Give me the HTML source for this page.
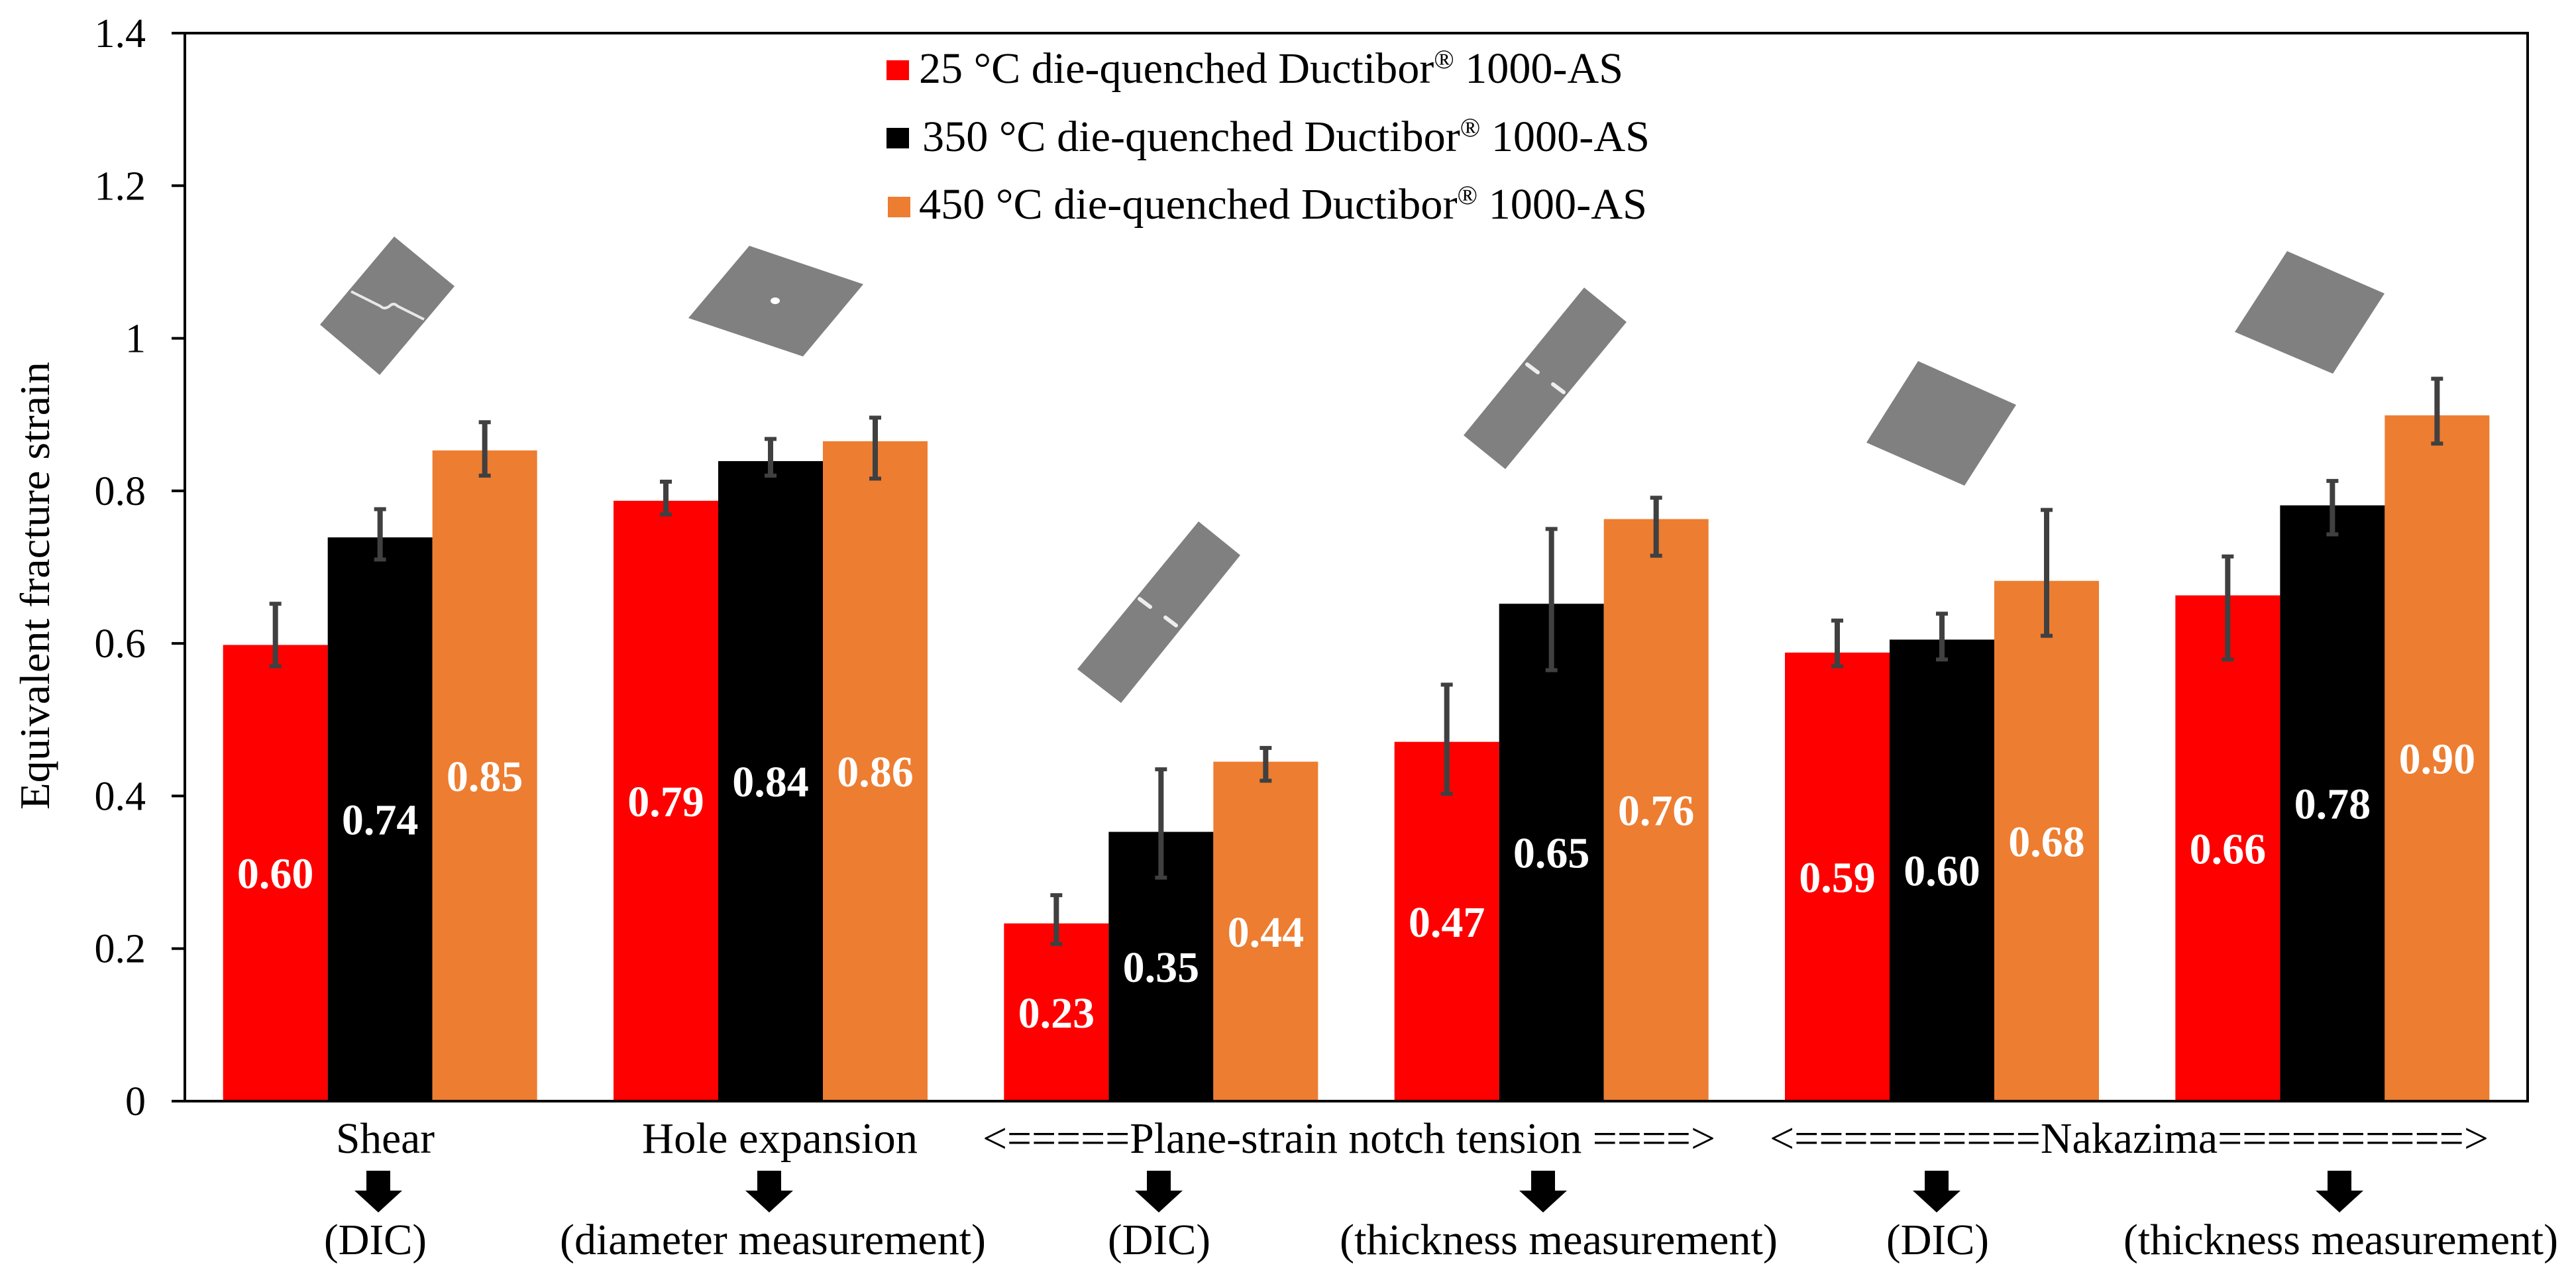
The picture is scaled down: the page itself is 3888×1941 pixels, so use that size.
<!DOCTYPE html>
<html><head><meta charset="utf-8"><style>
html,body{margin:0;padding:0;background:#fff;}
svg{display:block;font-family:"Liberation Serif",serif;}
</style></head><body>
<svg id="chart" xmlns="http://www.w3.org/2000/svg" width="3888" height="1941" viewBox="0 0 3888 1941">
<rect x="0" y="0" width="3888" height="1941" fill="#fff"/>
<g id="specimens">
 <g>
  <polygon points="595,357 686,432 573,566 483,490" fill="#808080"/>
  <path d="M530,440 L574,462 Q580,468 588,462 Q594,456 600,462 L640,482" stroke="#e8e8e8" stroke-width="4" fill="none"/>
 </g>
 <g>
  <polygon points="1131,371 1303,429 1212,538 1039,480" fill="#808080"/>
  <ellipse cx="1170" cy="454" rx="7" ry="5" fill="#fff"/>
 </g>
 <g>
  <polygon points="1809,787 1872,838 1692,1061 1626,1010" fill="#808080"/>
  <line x1="1720" y1="904" x2="1736" y2="916" stroke="#eee" stroke-width="6" stroke-linecap="round"/>
  <line x1="1759" y1="932" x2="1775" y2="944" stroke="#eee" stroke-width="6" stroke-linecap="round"/>
 </g>
 <g>
  <polygon points="2391,434 2455,486 2272,708 2209,657" fill="#808080"/>
  <line x1="2305" y1="550" x2="2321" y2="562" stroke="#eee" stroke-width="6" stroke-linecap="round"/>
  <line x1="2344" y1="580" x2="2360" y2="592" stroke="#eee" stroke-width="6" stroke-linecap="round"/>
 </g>
 <polygon points="2895,545 3043,611 2965,733 2817,668" fill="#808080"/>
 <polygon points="3452,379 3599,443 3521,564 3373,501" fill="#808080"/>
</g>
<g id="bars"></g>
<g id="axes"></g>
<g id="legend">
 <g>
  <rect x="1338" y="91" width="34" height="30" fill="#FF0000"/>
  <text x="1387" y="125" font-size="66" textLength="1063" lengthAdjust="spacingAndGlyphs">25 °C die-quenched Ductibor<tspan font-size="40" dy="-22">®</tspan><tspan dy="22"> 1000-AS</tspan></text>
 </g>
 <g>
  <rect x="1338" y="193" width="34" height="31" fill="#000"/>
  <text x="1392" y="228" font-size="66" textLength="1098" lengthAdjust="spacingAndGlyphs">350 °C die-quenched Ductibor<tspan font-size="40" dy="-22">®</tspan><tspan dy="22"> 1000-AS</tspan></text>
 </g>
 <g>
  <rect x="1340" y="297" width="34" height="31" fill="#ED7D31"/>
  <text x="1387" y="330" font-size="66" textLength="1099" lengthAdjust="spacingAndGlyphs">450 °C die-quenched Ductibor<tspan font-size="40" dy="-22">®</tspan><tspan dy="22"> 1000-AS</tspan></text>
 </g>
</g>
<g id="catlabels">
 <text x="507" y="1740" font-size="66" textLength="149" lengthAdjust="spacingAndGlyphs">Shear</text>
 <text x="969" y="1740" font-size="66" textLength="416" lengthAdjust="spacingAndGlyphs">Hole expansion</text>
 <text x="1483" y="1740" font-size="66" textLength="1106" lengthAdjust="spacingAndGlyphs">&lt;=====Plane-strain notch tension ====&gt;</text>
 <text x="2671" y="1740" font-size="66" textLength="1085" lengthAdjust="spacingAndGlyphs">&lt;==========Nakazima==========&gt;</text>
 <text x="489" y="1893" font-size="66" textLength="155" lengthAdjust="spacingAndGlyphs">(DIC)</text>
 <text x="845" y="1893" font-size="66" textLength="643" lengthAdjust="spacingAndGlyphs">(diameter measurement)</text>
 <text x="1672" y="1893" font-size="66" textLength="155" lengthAdjust="spacingAndGlyphs">(DIC)</text>
 <text x="2022" y="1893" font-size="66" textLength="661" lengthAdjust="spacingAndGlyphs">(thickness measurement)</text>
 <text x="2847" y="1893" font-size="66" textLength="155" lengthAdjust="spacingAndGlyphs">(DIC)</text>
 <text x="3205" y="1893" font-size="66" textLength="656" lengthAdjust="spacingAndGlyphs">(thickness measurement)</text>
</g>
<g id="arrows"></g>
</svg>
<script>
const categories = ["Shear DIC","Hole expansion","Plane-strain DIC","Plane-strain thickness","Nakazima DIC","Nakazima thickness"];
const seriesNames = ["25 °C","350 °C","450 °C"];
const values25 = [0.598,0.787,0.233,0.471,0.588,0.663];
const values350 = [0.739,0.839,0.353,0.652,0.605,0.781];
const values450 = [0.853,0.865,0.445,0.763,0.682,0.899];
const errHi25 = [0.652,0.812,0.270,0.546,0.630,0.714];
const errLo25 = [0.570,0.769,0.206,0.403,0.570,0.579];
const errHi350 = [0.776,0.868,0.435,0.750,0.639,0.813];
const errLo350 = [0.710,0.820,0.293,0.565,0.579,0.743];
const errHi450 = [0.890,0.896,0.463,0.791,0.775,0.947];
const errLo450 = [0.820,0.816,0.420,0.715,0.610,0.862];
const printed25 = ["0.60","0.79","0.23","0.47","0.59","0.66"];
const printed350 = ["0.74","0.84","0.35","0.65","0.60","0.78"];
const printed450 = ["0.85","0.86","0.44","0.76","0.68","0.90"];
const yTicks = [0,0.2,0.4,0.6,0.8,1,1.2,1.4];
const yTickLabels = ["0","0.2","0.4","0.6","0.8","1","1.2","1.4"];

const NS="http://www.w3.org/2000/svg";
const L=279,R=3815,T=50,B=1662,YMAX=1.4;
const y=v=>B-(v/YMAX)*(B-T);
const groupW=(R-L)/categories.length, barW=158;
const xc=i=>L+groupW*(i+0.5);
function mk(tag,attrs,parent){const e=document.createElementNS(NS,tag);for(const k in attrs)e.setAttribute(k,attrs[k]);parent.appendChild(e);return e;}
const bars=document.getElementById('bars');
const series=[[values25,errHi25,errLo25,printed25,"#FF0000"],[values350,errHi350,errLo350,printed350,"#000000"],[values450,errHi450,errLo450,printed450,"#ED7D31"]];
series.forEach((s,si)=>{
  s[0].forEach((v,i)=>{
    const x=xc(i)-1.5*barW+si*barW;
    const r=mk('rect',{x:x,y:y(v),width:barW,height:B-y(v),fill:s[4]},bars);
    
    
    const cx=x+barW/2;
    const e=mk('g',{stroke:'#404040','stroke-width':8},bars);
    
    
    mk('line',{x1:cx,x2:cx,y1:y(s[1][i]),y2:y(s[2][i])},e);
    mk('line',{x1:cx-9,x2:cx+9,y1:y(s[1][i]),y2:y(s[1][i]),'stroke-width':6},e);
    mk('line',{x1:cx-9,x2:cx+9,y1:y(s[2][i]),y2:y(s[2][i]),'stroke-width':6},e);
    const t=mk('text',{x:cx,y:(y(v)+B)/2+23,'text-anchor':'middle','font-size':66,'font-weight':'bold',fill:'#fff'},bars);
    
    
    t.textContent=s[3][i];
  });
});
const axes=document.getElementById('axes');
const frame=mk('rect',{x:L,y:T,width:R-L,height:B-T,fill:'none',stroke:'#000','stroke-width':4},axes);


yTicks.forEach((v,i)=>{
  const tk=mk('line',{x1:259,x2:L,y1:y(v),y2:y(v),stroke:'#000','stroke-width':4},axes);
  
  
  const t=mk('text',{x:220,y:y(v)+21,'text-anchor':'end','font-size':62},axes);
  
  
  t.textContent=yTickLabels[i];
});
const yt=mk('text',{x:0,y:0,transform:'translate(74,884) rotate(-90)','text-anchor':'middle','font-size':64,textLength:676,lengthAdjust:'spacingAndGlyphs'},axes);


yt.textContent='Equivalent fracture strain';
const arrows=document.getElementById('arrows');
[571,1161,1749,2329,2923,3531].forEach(ax=>{
  const p=mk('polygon',{points:`${ax-18},1767 ${ax+18},1767 ${ax+18},1797 ${ax+36},1797 ${ax},1830 ${ax-36},1797 ${ax-18},1797`,fill:'#000'},arrows);
  
  
});
</script>
</body></html>
